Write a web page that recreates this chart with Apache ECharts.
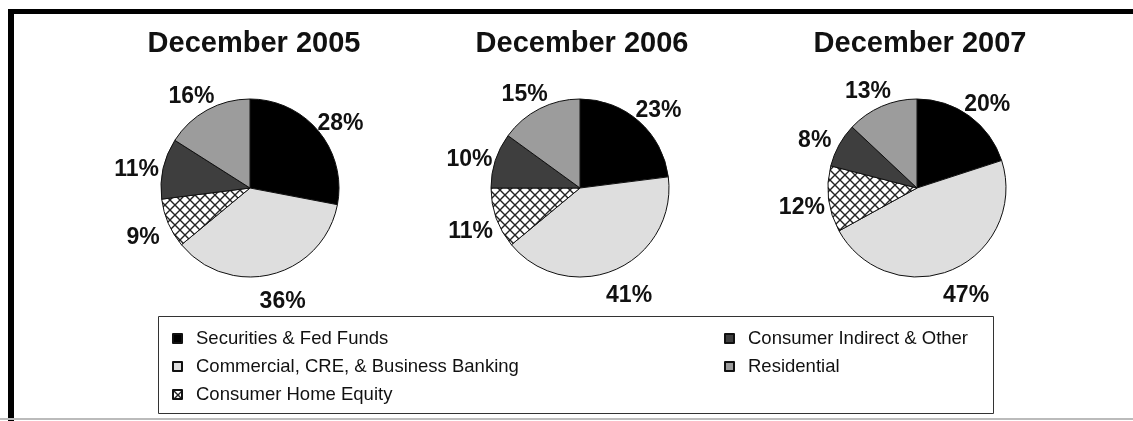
<!DOCTYPE html>
<html>
<head>
<meta charset="utf-8">
<script src="https://cdn.jsdelivr.net/npm/echarts@6/dist/echarts.min.js"></script>
<style>
html,body{margin:0;padding:0;background:#fff;}
#chart{width:1133px;height:421px;}
</style>
</head>
<body>
<div id="chart"></div>
<script>
var categories = ['Securities & Fed Funds', 'Commercial, CRE, & Business Banking', 'Consumer Home Equity', 'Consumer Indirect & Other', 'Residential'];
var years = ['December 2005', 'December 2006', 'December 2007'];
var values2005 = [28, 36, 9, 11, 16];
var values2006 = [23, 41, 11, 10, 15];
var values2007 = [20, 47, 12, 8, 13];
var allValues = [values2005, values2006, values2007];

function hatch() {
  var s = 10;
  var c = document.createElement('canvas');
  c.width = s; c.height = s;
  var g = c.getContext('2d');
  g.fillStyle = '#fff';
  g.fillRect(0, 0, s, s);
  g.strokeStyle = '#222';
  g.lineWidth = 1.4;
  g.beginPath();
  g.moveTo(-1, -1); g.lineTo(s + 1, s + 1);
  g.moveTo(s + 1, -1); g.lineTo(-1, s + 1);
  g.stroke();
  return c;
}
var colors = ['#000000', '#dedede', {image: hatch(), repeat: 'repeat'}, '#3e3e3e', '#9c9c9c'];

var centersX = [250, 580, 917];
var titleX = [254, 582, 920];
var FONT = '"Liberation Sans", Arial, sans-serif';

var chart = echarts.init(document.getElementById('chart'), null, {renderer: 'canvas'});

var series = allValues.map(function (vals, i) {
  return {
    type: 'pie',
    center: [centersX[i], 188],
    radius: 89,
    startAngle: 90,
    clockwise: true,
    avoidLabelOverlap: false,
    animation: false,
    itemStyle: {borderColor: '#111', borderWidth: 1},
    label: {
      show: true,
      position: 'outside',
      formatter: '{c}%',
      color: '#111',
      fontFamily: FONT,
      fontSize: 23,
      fontWeight: 'bold'
    },
    labelLine: {show: false, length: 22, length2: 0},
    labelLayout: {align: 'center', verticalAlign: 'middle', dy: 6},
    emphasis: {disabled: true},
    data: vals.map(function (v, k) {
      return {name: categories[k], value: v, itemStyle: {color: colors[k]}};
    })
  };
});

var option = {
  backgroundColor: '#fff',
  animation: false,
  title: years.map(function (t, i) {
    return {
      text: t,
      left: titleX[i],
      top: 29,
      textAlign: 'center',
      padding: 0,
      textStyle: {fontFamily: FONT, fontSize: 29, fontWeight: 'bold', color: '#111'}
    };
  }),
  legend: [
    {
      data: categories.slice(0, 3),
      orient: 'vertical',
      left: 172,
      top: 329,
      padding: 0,
      itemWidth: 9,
      itemHeight: 9,
      itemGap: 9,
      icon: 'rect',
      selectedMode: false,
      textStyle: {fontFamily: FONT, fontSize: 18.5, color: '#111', padding: [0, 0, 0, 9]}
    },
    {
      data: categories.slice(3),
      orient: 'vertical',
      left: 724,
      top: 329,
      padding: 0,
      itemWidth: 9,
      itemHeight: 9,
      itemGap: 9,
      icon: 'rect',
      selectedMode: false,
      textStyle: {fontFamily: FONT, fontSize: 18.5, color: '#111', padding: [0, 0, 0, 9]}
    }
  ],
  graphic: [
    {type: 'rect', shape: {x: 8, y: 9, width: 1125, height: 5}, style: {fill: '#000'}},
    {type: 'rect', shape: {x: 8, y: 9, width: 6, height: 412}, style: {fill: '#000'}},
    {type: 'rect', shape: {x: 0, y: 418, width: 1133, height: 2}, style: {fill: '#bbbbbb'}},
    {type: 'rect', shape: {x: 158.5, y: 316.5, width: 835, height: 97}, style: {fill: 'none', stroke: '#333', lineWidth: 1}}
  ],
  series: series
};
chart.setOption(option);
</script>
</body>
</html>
